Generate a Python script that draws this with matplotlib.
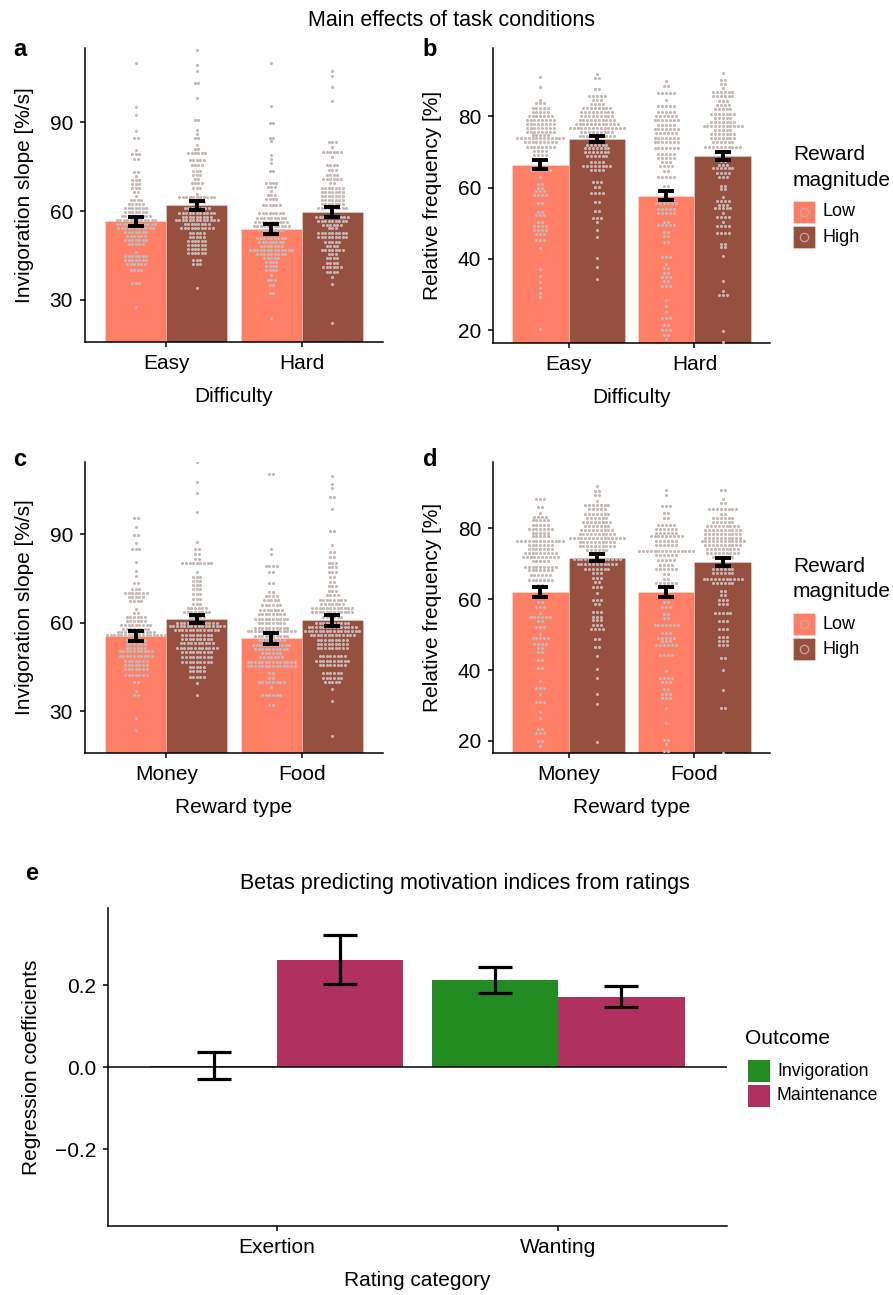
import matplotlib
matplotlib.use("Agg")
import matplotlib.pyplot as plt
from matplotlib.patches import Rectangle
from matplotlib.lines import Line2D
from matplotlib.ticker import FuncFormatter
import numpy as np

plt.rcParams['font.family'] = ['Liberation Sans', 'DejaVu Sans']

W, H = 893, 1295
LOW = '#fe7f66'
HIGH = '#95503f'
DOT = '#c6b6b4'
INVIG = '#228b22'
MAINT = '#b03060'

difficulty = ['Easy', 'Hard']
reward_type = ['Money', 'Food']
magnitude = ['Low', 'High']

# bar means and standard errors, one value per category
slope_diff_low, slope_diff_low_se = [56.5, 53.9], [1.6, 1.7]
slope_diff_high, slope_diff_high_se = [61.9, 59.8], [1.6, 1.7]
freq_diff_low, freq_diff_low_se = [66.5, 57.8], [1.3, 1.4]
freq_diff_high, freq_diff_high_se = [73.7, 69.0], [0.8, 1.1]
slope_type_low, slope_type_low_se = [55.6, 54.7], [1.7, 1.8]
slope_type_high, slope_type_high_se = [61.2, 60.8], [1.5, 1.8]
freq_type_low, freq_type_low_se = [62.1, 61.9], [1.4, 1.4]
freq_type_high, freq_type_high_se = [71.7, 70.5], [1.0, 1.1]

# individual subjects as dot-plot rows: (value, number of dots in the row)
a_easy_low = [(110.0, 1), (95.2, 1), (92.3, 1), (86.9, 1), (84.6, 2), (80.6, 1), (79.1, 3), (77.5, 2), (73.3, 2),
              (71.8, 1), (70.4, 3), (69.1, 3), (67.8, 3), (66.4, 2), (65.1, 1), (63.7, 4), (62.4, 5), (61.0, 7),
              (59.7, 7), (58.3, 9), (57.0, 12), (55.6, 12), (54.2, 11), (52.8, 7), (51.5, 6), (50.1, 7), (48.8, 5),
              (46.1, 1), (44.9, 7), (43.6, 7), (42.2, 6), (40.1, 4), (35.6, 3), (27.7, 1)]
a_easy_high = [(114.3, 1), (109.4, 1), (107.3, 1), (103.3, 2), (98.2, 1), (90.7, 2), (87.3, 1), (86.0, 1), (84.6, 2),
               (82.3, 1), (80.9, 2), (79.6, 6), (77.2, 5), (75.5, 4), (73.6, 3), (72.0, 3), (70.7, 2), (69.3, 4),
               (67.6, 3), (65.7, 1), (64.6, 11), (63.2, 5), (60.9, 8), (59.4, 11), (58.1, 9), (57.0, 13), (55.6, 8),
               (54.2, 10), (52.7, 5), (51.1, 5), (49.9, 6), (48.4, 6), (47.1, 6), (45.7, 6), (43.5, 3), (42.1, 3),
               (33.9, 1)]
a_hard_low = [(110.0, 1), (95.3, 1), (89.8, 2), (84.8, 2), (83.5, 1), (78.9, 1), (77.4, 1), (76.1, 1), (73.4, 2),
              (69.5, 4), (68.2, 3), (66.8, 1), (65.5, 3), (64.1, 4), (62.1, 6), (59.2, 8), (57.6, 9), (56.3, 10),
              (54.9, 11), (53.6, 8), (50.8, 9), (49.5, 8), (48.3, 7), (47.0, 13), (45.6, 9), (44.3, 5), (42.9, 4),
              (41.5, 4), (40.1, 4), (38.3, 1), (36.7, 3), (35.1, 2), (32.5, 2), (23.8, 1)]
a_hard_high = [(107.3, 1), (105.7, 1), (101.9, 1), (97.2, 1), (83.3, 3), (81.5, 1), (79.9, 6), (78.3, 1), (75.5, 4),
               (73.8, 3), (72.2, 4), (70.9, 6), (69.5, 2), (67.8, 7), (66.4, 7), (65.1, 7), (63.7, 7), (62.4, 7),
               (60.9, 9), (58.1, 10), (56.7, 9), (55.3, 6), (54.2, 3), (52.7, 9), (51.3, 9), (49.5, 5), (48.3, 4),
               (47.0, 7), (45.6, 3), (44.1, 4), (42.6, 4), (41.0, 6), (39.4, 4), (37.9, 1), (35.4, 1), (22.1, 1)]

b_easy_low = [(91.0, 1), (88.3, 1), (84.7, 1), (83.7, 3), (82.4, 5), (81.3, 5), (80.2, 7), (79.0, 8), (77.9, 8),
              (76.8, 8), (75.7, 8), (74.7, 5), (73.8, 13), (72.7, 9), (71.5, 8), (70.2, 4), (69.1, 4), (68.0, 4),
              (65.0, 6), (62.9, 1), (60.9, 2), (59.9, 2), (59.0, 3), (58.0, 4), (55.6, 2), (53.1, 2), (52.4, 3),
              (50.3, 2), (49.2, 4), (48.1, 4), (46.9, 3), (45.4, 3), (43.0, 1), (37.2, 1), (35.3, 1), (33.4, 1),
              (31.8, 1), (30.4, 1), (29.3, 1), (20.3, 1)]
b_easy_high = [(91.9, 1), (90.8, 2), (87.8, 2), (85.8, 5), (84.7, 3), (83.5, 4), (82.3, 8), (81.2, 9), (80.1, 9),
               (79.0, 10), (77.8, 12), (76.8, 15), (75.7, 9), (74.6, 10), (72.1, 6), (71.0, 7), (69.9, 7), (68.8, 6),
               (67.3, 4), (66.1, 8), (65.0, 4), (61.6, 3), (60.1, 2), (58.4, 4), (55.9, 2), (53.5, 2), (51.6, 3),
               (50.3, 1), (48.1, 1), (46.2, 1), (40.3, 1), (37.8, 1), (34.4, 1)]
b_hard_low = [(89.8, 1), (88.6, 2), (86.6, 5), (84.7, 1), (83.0, 5), (81.3, 5), (80.0, 6), (78.9, 7), (77.7, 5),
              (76.4, 7), (75.3, 6), (74.0, 7), (72.7, 7), (71.2, 7), (69.5, 5), (68.3, 5), (67.2, 3), (66.1, 4),
              (64.6, 2), (62.9, 5), (60.6, 2), (55.8, 6), (53.9, 5), (52.8, 5), (50.5, 2), (49.4, 5), (47.5, 2),
              (46.4, 2), (44.8, 2), (40.5, 3), (38.6, 1), (37.4, 2), (36.1, 2), (34.9, 3), (33.8, 2), (32.5, 3),
              (28.5, 1), (26.7, 1), (25.2, 1), (23.4, 3), (21.5, 2), (20.1, 3), (18.7, 2), (17.5, 1)]
b_hard_high = [(92.1, 1), (90.3, 2), (89.0, 2), (87.9, 1), (86.8, 6), (85.6, 6), (84.3, 3), (83.2, 4), (82.1, 5),
               (80.7, 7), (79.6, 5), (78.5, 7), (77.4, 11), (76.2, 5), (75.1, 7), (73.8, 7), (72.7, 6), (71.5, 10),
               (67.4, 2), (66.3, 3), (65.4, 6), (64.2, 4), (63.1, 3), (60.5, 2), (59.5, 2), (57.3, 1), (56.2, 4),
               (55.2, 3), (54.3, 5), (53.0, 1), (51.9, 4), (50.4, 1), (49.2, 4), (47.3, 4), (44.3, 2), (43.4, 2),
               (40.7, 1), (33.7, 1), (30.9, 1), (30.0, 3), (19.9, 1), (16.8, 1)]

c_money_low = [(95.3, 2), (92.5, 1), (89.7, 2), (86.8, 1), (84.8, 3), (80.4, 1), (77.6, 1), (75.9, 1), (73.3, 2),
               (71.3, 3), (69.9, 7), (68.6, 5), (67.2, 4), (64.6, 1), (63.3, 2), (61.9, 6), (60.6, 6), (59.2, 9),
               (57.9, 8), (56.8, 11), (55.7, 17), (54.0, 6), (52.7, 6), (51.5, 6), (50.2, 10), (48.7, 10), (47.0, 7),
               (45.5, 7), (44.4, 7), (42.3, 7), (39.8, 2), (36.7, 1), (35.6, 2), (27.7, 1), (23.7, 1)]
c_money_high = [(114.4, 1), (107.5, 1), (103.8, 1), (97.3, 1), (87.2, 1), (84.9, 2), (83.1, 2), (81.5, 2), (80.3, 9),
                (77.1, 1), (75.6, 3), (74.2, 3), (72.8, 3), (71.3, 3), (69.6, 3), (68.0, 3), (66.4, 3), (65.1, 6),
                (63.5, 8), (62.0, 5), (60.0, 12), (58.8, 16), (57.4, 13), (55.8, 9), (54.5, 9), (53.0, 10),
                (51.5, 12), (50.0, 9), (48.2, 9), (46.6, 9), (45.0, 5), (43.7, 5), (41.4, 5), (39.4, 1), (35.5, 1)]
c_food_low = [(110.2, 2), (84.8, 1), (83.3, 1), (79.2, 4), (77.0, 2), (73.4, 2), (70.5, 2), (69.1, 4), (67.6, 5),
              (66.0, 6), (64.4, 7), (62.8, 8), (61.3, 10), (59.7, 8), (58.3, 10), (57.0, 14), (55.4, 10), (54.0, 8),
              (52.5, 11), (51.1, 10), (49.6, 6), (48.2, 7), (46.6, 14), (45.2, 14), (42.8, 2), (41.3, 2), (40.0, 8),
              (38.1, 1), (35.5, 6), (32.2, 2)]
c_food_high = [(109.7, 1), (107.0, 1), (105.5, 1), (102.4, 2), (98.5, 1), (91.0, 2), (86.3, 1), (83.8, 2), (82.2, 2),
               (80.2, 3), (78.8, 3), (77.2, 3), (75.6, 2), (73.9, 2), (72.3, 3), (70.7, 3), (69.4, 4), (67.6, 8),
               (66.2, 7), (64.9, 12), (63.5, 12), (62.0, 6), (59.9, 10), (58.6, 14), (57.2, 16), (55.8, 13),
               (54.2, 9), (52.8, 9), (51.3, 9), (48.8, 8), (47.1, 10), (45.6, 8), (42.9, 6), (41.3, 6), (39.7, 5),
               (37.5, 1), (33.5, 1), (21.7, 1)]

d_money_low = [(88.4, 3), (86.0, 2), (84.4, 1), (83.3, 4), (82.2, 5), (81.0, 5), (79.9, 7), (78.8, 5), (77.7, 5),
               (76.5, 13), (75.2, 7), (74.1, 7), (73.0, 9), (71.8, 10), (70.7, 5), (69.2, 9), (68.1, 7), (66.8, 6),
               (65.4, 7), (63.9, 2), (59.2, 2), (57.9, 3), (56.2, 1), (55.1, 6), (53.8, 2), (52.2, 3), (50.3, 1),
               (49.1, 5), (47.4, 4), (46.1, 2), (45.0, 2), (42.8, 2), (40.5, 2), (36.9, 1), (34.8, 3), (33.2, 1),
               (31.1, 3), (28.3, 1), (26.4, 1), (23.4, 2), (22.3, 3), (20.0, 2), (18.7, 1)]
d_money_high = [(91.9, 1), (90.6, 2), (89.5, 2), (87.8, 1), (86.7, 7), (85.4, 5), (84.0, 7), (82.9, 6), (81.8, 8),
                (80.7, 7), (79.5, 9), (78.4, 10), (77.3, 15), (76.1, 10), (75.0, 10), (73.9, 6), (71.3, 13),
                (69.9, 11), (68.6, 7), (67.3, 3), (66.0, 3), (64.9, 2), (63.4, 3), (61.7, 1), (59.8, 3), (58.7, 2),
                (56.4, 3), (55.1, 3), (54.0, 3), (52.7, 3), (51.7, 4), (48.9, 2), (46.5, 2), (44.0, 1), (40.3, 1),
                (37.7, 1), (33.2, 1), (30.5, 1), (19.8, 1)]
d_food_low = [(90.7, 1), (89.3, 1), (86.3, 3), (84.2, 2), (82.9, 2), (81.0, 5), (79.9, 6), (78.8, 6), (77.7, 9),
              (76.3, 6), (75.2, 6), (73.5, 15), (72.4, 6), (71.1, 5), (69.6, 4), (68.5, 6), (67.1, 2), (65.8, 2),
              (64.5, 6), (59.2, 2), (57.7, 3), (55.9, 2), (54.7, 2), (52.7, 7), (50.4, 3), (49.1, 5), (48.2, 3),
              (47.0, 6), (44.2, 4), (39.7, 1), (37.8, 4), (36.5, 3), (34.6, 2), (33.2, 3), (32.0, 3), (29.2, 1),
              (25.0, 1), (20.3, 2), (19.2, 1), (17.2, 2)]
d_food_high = [(90.9, 2), (88.4, 1), (87.0, 2), (85.4, 8), (83.9, 2), (82.9, 6), (81.8, 6), (80.7, 9), (79.5, 10),
               (78.4, 10), (77.3, 10), (76.3, 12), (75.2, 10), (74.1, 9), (73.0, 9), (71.9, 6), (68.6, 6), (67.5, 6),
               (65.6, 11), (64.5, 6), (62.3, 2), (61.1, 2), (59.8, 3), (58.7, 3), (56.1, 5), (53.8, 3), (51.5, 3),
               (49.3, 3), (48.2, 3), (47.0, 3), (43.3, 2), (40.1, 1), (34.3, 1), (29.4, 2), (16.5, 1)]

# panel e: regression betas with error bar limits
rating_cat = ['Exertion', 'Wanting']
outcome = ['Invigoration', 'Maintenance']
beta_invig = [0.004, 0.212]
beta_invig_lo = [-0.028, 0.181]
beta_invig_hi = [0.038, 0.244]
beta_maint = [0.262, 0.172]
beta_maint_lo = [0.203, 0.147]
beta_maint_hi = [0.323, 0.199]

fig = plt.figure(figsize=(W / 100, H / 100), dpi=100)


def rect_px(left, top, right, bottom):
    return [left / W, 1 - bottom / H, (right - left) / W, (bottom - top) / H]


def fx(x):
    return x / W


def fy(y):
    return 1 - y / H


def style_axes(ax):
    for s in ['top', 'right']:
        ax.spines[s].set_visible(False)
    for s in ['left', 'bottom']:
        ax.spines[s].set_linewidth(1.1)
    ax.tick_params(length=3.6, width=1.1, labelsize=15, pad=5)


def draw_dots(ax, xc, rows, dx):
    xs, ys = [], []
    for v, n in rows:
        for i in range(n):
            xs.append(xc + (i - (n - 1) / 2) * dx)
            ys.append(v)
    ax.scatter(xs, ys, s=5, color=DOT, linewidths=0, zorder=3)


def bar_panel(rect, cats, low, low_se, high, high_se, dots, ylim, yticks, ylabel, xlabel, spacing_px):
    ax = fig.add_axes(rect)
    x = np.arange(1, len(cats) + 1)
    ax.bar(x - 0.225, low, 0.45, color=LOW, edgecolor='#ffffff66', linewidth=0.5, zorder=2)
    ax.bar(x + 0.225, high, 0.45, color=HIGH, edgecolor='#ffffff66', linewidth=0.5, zorder=2)
    ax.set_xlim(0.4, 2.6)
    ax.set_ylim(*ylim)
    dx = spacing_px / (rect[2] * W / 2.2)
    for i in range(len(cats)):
        draw_dots(ax, x[i] - 0.225, dots[i][0], dx)
        draw_dots(ax, x[i] + 0.225, dots[i][1], dx)
    ax.errorbar(x - 0.225, low, yerr=low_se, fmt='none', ecolor='black', elinewidth=2.8,
                capsize=6, capthick=2.8, zorder=4)
    ax.errorbar(x + 0.225, high, yerr=high_se, fmt='none', ecolor='black', elinewidth=2.8,
                capsize=6, capthick=2.8, zorder=4)
    ax.set_xticks(x)
    ax.set_xticklabels(cats)
    ax.set_yticks(yticks)
    style_axes(ax)
    ax.set_ylabel(ylabel, fontsize=15, labelpad=11)
    ax.set_xlabel(xlabel, fontsize=15, labelpad=10)
    return ax


def mag_legend(top):
    fig.text(fx(793), fy(top), 'Reward', fontsize=15, ha='left', va='center')
    fig.text(fx(793), fy(top + 25), 'magnitude', fontsize=15, ha='left', va='center')
    for k, (lab, col) in enumerate(zip(magnitude, [LOW, HIGH])):
        y0 = top + 46 + k * 25
        fig.add_artist(Rectangle((fx(793), fy(y0 + 22)), 22 / W, 22 / H, transform=fig.transFigure,
                                 facecolor=col, edgecolor='#ffffff66', linewidth=0.5))
        fig.add_artist(Line2D([fx(804)], [fy(y0 + 11)], marker='o', markersize=6, markerfacecolor='none',
                              markeredgecolor='#c9a9a3', markeredgewidth=0.9, transform=fig.transFigure))
        fig.text(fx(823), fy(y0 + 11), lab, fontsize=13, ha='left', va='center')


fig.text(fx(451), fy(20), 'Main effects of task conditions', fontsize=15.5, ha='center', va='center')

bar_panel(rect_px(85, 48, 383, 342), difficulty, slope_diff_low, slope_diff_low_se, slope_diff_high,
          slope_diff_high_se, [(a_easy_low, a_easy_high), (a_hard_low, a_hard_high)], (15.8, 115),
          [30, 60, 90], 'Invigoration slope [%/s]', 'Difficulty', 3.5)
bar_panel(rect_px(493, 48, 770, 343), difficulty, freq_diff_low, freq_diff_low_se, freq_diff_high,
          freq_diff_high_se, [(b_easy_low, b_easy_high), (b_hard_low, b_hard_high)], (16.4, 99.2),
          [20, 40, 60, 80], 'Relative frequency [%]', 'Difficulty', 3.85)
bar_panel(rect_px(85, 462, 383, 753), reward_type, slope_type_low, slope_type_low_se, slope_type_high,
          slope_type_high_se, [(c_money_low, c_money_high), (c_food_low, c_food_high)], (15.8, 114.4),
          [30, 60, 90], 'Invigoration slope [%/s]', 'Reward type', 3.6)
bar_panel(rect_px(493, 462, 770, 753), reward_type, freq_type_low, freq_type_low_se, freq_type_high,
          freq_type_high_se, [(d_money_low, d_money_high), (d_food_low, d_food_high)], (16.6, 98.7),
          [20, 40, 60, 80], 'Relative frequency [%]', 'Reward type', 3.85)

mag_legend(155)
mag_legend(567)

for lab, (px, py) in zip('abcd', [(20, 50), (430, 50), (20, 460), (430, 460)]):
    fig.text(fx(px), fy(py), lab, fontsize=17, fontweight='bold', ha='center', va='center')

# panel e
axe = fig.add_axes(rect_px(108, 908, 727, 1226))
xe = np.arange(1, len(rating_cat) + 1)
axe.bar(xe - 0.225, beta_invig, 0.45, color=INVIG, edgecolor='none', zorder=2)
axe.bar(xe + 0.225, beta_maint, 0.45, color=MAINT, edgecolor='none', zorder=2)
axe.axhline(0, color='black', linewidth=1.1, zorder=3)
err_i = [np.array(beta_invig) - np.array(beta_invig_lo), np.array(beta_invig_hi) - np.array(beta_invig)]
err_m = [np.array(beta_maint) - np.array(beta_maint_lo), np.array(beta_maint_hi) - np.array(beta_maint)]
axe.errorbar(xe - 0.225, beta_invig, yerr=err_i, fmt='none', ecolor='black', elinewidth=2.3,
             capsize=12, capthick=2.3, zorder=4)
axe.errorbar(xe + 0.225, beta_maint, yerr=err_m, fmt='none', ecolor='black', elinewidth=2.3,
             capsize=12, capthick=2.3, zorder=4)
axe.set_xlim(0.4, 2.6)
axe.set_ylim(-0.387, 0.388)
axe.set_yticks([-0.2, 0.0, 0.2])
axe.yaxis.set_major_formatter(FuncFormatter(lambda v, p: f'{v:.1f}'.replace('-', '\u2212')))
axe.set_xticks(xe)
axe.set_xticklabels(rating_cat)
style_axes(axe)
axe.set_ylabel('Regression coefficients', fontsize=15, labelpad=10)
axe.set_xlabel('Rating category', fontsize=15, labelpad=10)

fig.text(fx(465), fy(884), 'Betas predicting motivation indices from ratings', fontsize=15.5,
         ha='center', va='center')
fig.text(fx(32), fy(873), 'e', fontsize=17, fontweight='bold', ha='center', va='center')

fig.text(fx(745), fy(1039), 'Outcome', fontsize=15, ha='left', va='center')
for k, (lab, col) in enumerate(zip(outcome, [INVIG, MAINT])):
    y0 = 1060 + k * 25
    fig.add_artist(Rectangle((fx(748), fy(y0 + 22)), 22 / W, 22 / H, transform=fig.transFigure,
                             facecolor=col, edgecolor='none'))
    fig.text(fx(777), fy(y0 + 11), lab, fontsize=12.7, ha='left', va='center')

fig.savefig('out.png', dpi=100)
